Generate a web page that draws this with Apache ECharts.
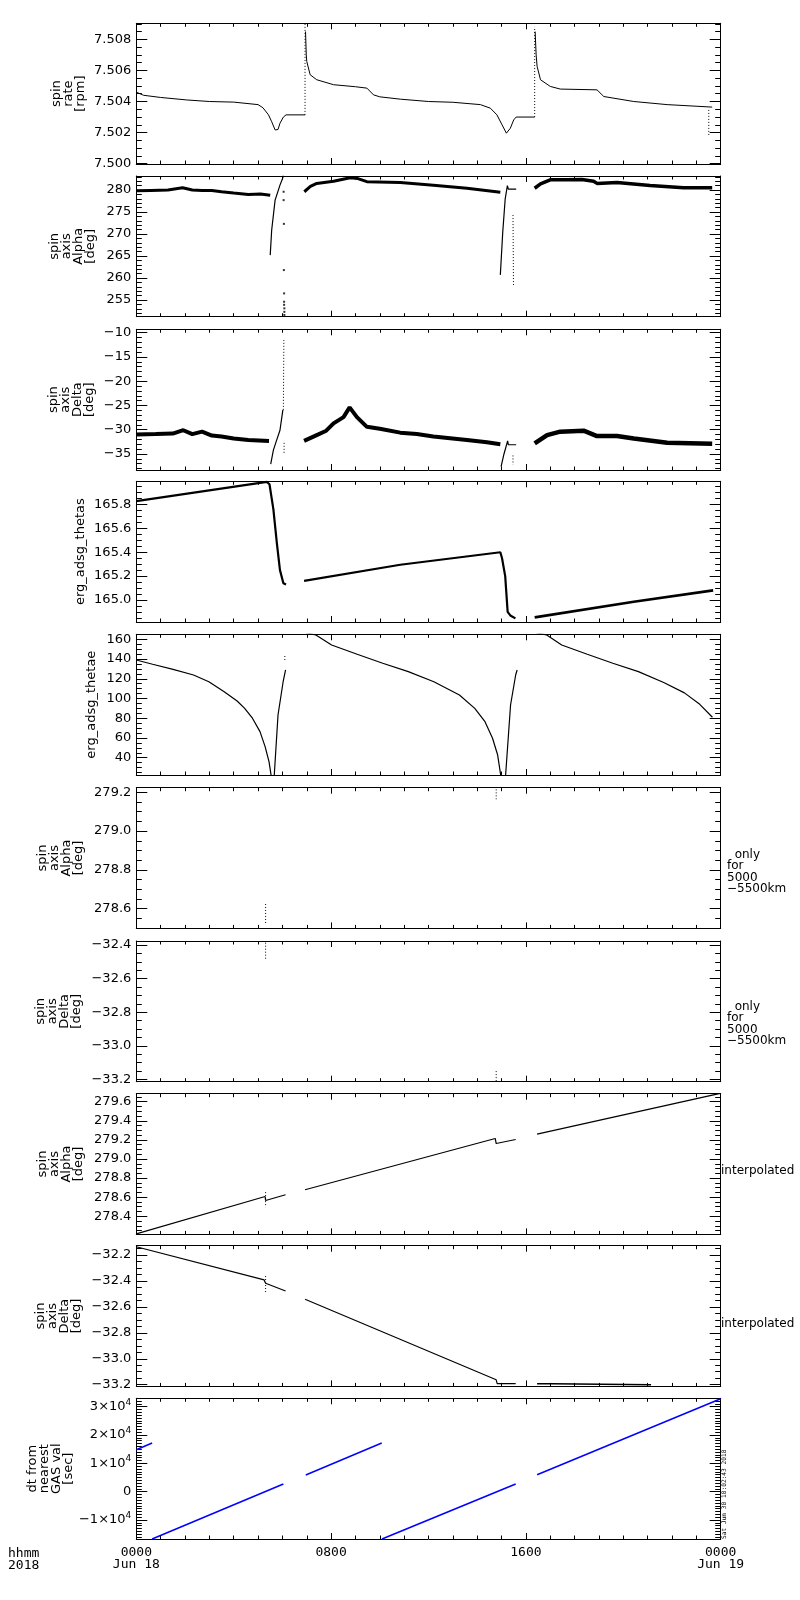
<!DOCTYPE html>
<html><head><meta charset="utf-8">
<script src="https://cdn.jsdelivr.net/npm/echarts@6/dist/echarts.min.js"></script>
<style>html,body{margin:0;padding:0;background:#fff}#c{width:800px;height:1600px}</style>
</head><body><div id="c"></div>
<script>
// ---------- axis ticks / labels ----------
const hourTicks = [0, 8, 16, 24];
const hourLabels = ['0000\nJun 18', '0800', '1600', '0000\nJun 19'];
const rateTicks = [7.500, 7.502, 7.504, 7.506, 7.508];
const alphaTicks = [255, 260, 265, 270, 275, 280];
const deltaTicks = [-35, -30, -25, -20, -15, -10];
const thetasTicks = [165.0, 165.2, 165.4, 165.6, 165.8];
const thetaeTicks = [40, 60, 80, 100, 120, 140, 160];
const onlyAlphaTicks = [278.6, 278.8, 279.0, 279.2];
const onlyDeltaTicks = [-33.2, -33.0, -32.8, -32.6, -32.4];
const interpAlphaTicks = [278.4, 278.6, 278.8, 279.0, 279.2, 279.4, 279.6];
const interpDeltaTicks = [-33.2, -33.0, -32.8, -32.6, -32.4, -32.2];
const dtTicks = [-10000, 0, 10000, 20000, 30000];

// ---------- data: [hour of day, value] ----------
// spin rate [rpm]
const rateA = [[0,7.5046],[0.3,7.5044],[1.0,7.50426],[2.07,7.5041],[3.0,7.5040],[4.0,7.50396],[5.0,7.5038],[5.2,7.5036],[5.43,7.50314],[5.56,7.5027],[5.7,7.50217],[5.75,7.5021],[5.82,7.5022],[5.9,7.5026],[6.04,7.5030],[6.15,7.50314],[6.93,7.50314]];
const rateJump1 = [[6.93,7.50314],[6.93,7.5090]];
const rateB = [[6.95,7.5085],[6.98,7.5070],[7.0,7.50658],[7.14,7.50572],[7.41,7.5054],[8.1,7.50508],[9.0,7.50495],[9.47,7.50486],[9.74,7.50443],[10.0,7.5043],[10.84,7.50415],[12.0,7.5040],[13.0,7.50395],[14.13,7.5038],[14.54,7.50357],[14.81,7.50314],[15.02,7.5025],[15.2,7.50196],[15.25,7.5019],[15.36,7.50228],[15.5,7.50282],[15.6,7.5030],[16.36,7.5030]];
const rateJump2 = [[16.36,7.5030],[16.36,7.5088]];
const rateC = [[16.38,7.5085],[16.42,7.5070],[16.46,7.50626],[16.6,7.5054],[17.0,7.50497],[17.41,7.5048],[18.92,7.50475],[19.2,7.50432],[20.43,7.5040],[21.8,7.5038],[23.65,7.50364]];
const rateDip = [[23.51,7.50346],[23.51,7.50174]];
// spin axis alpha [deg]
const alphaA = [[0,279.8],[0.6,279.9],[1.3,280.0],[1.9,280.5],[2.3,280.0],[2.7,279.9],[3.1,279.9],[3.5,279.6],[4.0,279.3],[4.6,279.0],[5.1,279.1],[5.5,278.8]];
const alphaRise1 = [[5.5,265.2],[5.56,270.9],[5.7,277.7],[5.9,281.1],[6.0,282.5],[6.04,283.3]];
const alphaDots1 = [[6.05,279.6],[6.05,277.7],[6.06,272.3],[6.06,261.8],[6.07,256.5],[6.07,254.6],[6.07,253.9],[6.08,253.1],[6.08,252.3],[6.08,251.6]];
const alphaB = [[6.9,279.6],[7.15,280.8],[7.41,281.5],[8.1,282.0],[8.78,282.8],[9.1,282.6],[9.47,281.9],[10.84,281.7],[12.2,281.1],[13.58,280.4],[14.95,279.5]];
const alphaRise2 = [[14.95,260.7],[15.05,270.5],[15.15,278.0],[15.24,281.0],[15.28,280.2],[15.6,280.2]];
const alphaDrop2 = [[15.47,274.3],[15.49,258.4]];
const alphaC = [[16.36,280.4],[16.6,281.4],[17.0,282.3],[17.69,282.3],[18.3,282.4],[18.78,282.0],[18.92,281.5],[19.74,281.7],[21.1,281.0],[22.48,280.5],[23.65,280.5]];
// spin axis delta [deg]
const deltaA = [[0,-31.0],[0.8,-30.9],[1.5,-30.8],[1.93,-30.1],[2.3,-30.9],[2.7,-30.4],[3.1,-31.2],[3.5,-31.4],[4.0,-31.8],[4.6,-32.1],[5.45,-32.3]];
const deltaRise1 = [[5.52,-37.1],[5.63,-34.2],[5.74,-32.5],[5.9,-30.1],[6.02,-25.9]];
const deltaUp1 = [[6.04,-25.9],[6.06,-11.5]];
const deltaDown1 = [[6.07,-32.7],[6.07,-34.8]];
const deltaB = [[6.89,-32.3],[7.41,-31.1],[7.8,-30.2],[8.1,-28.7],[8.51,-27.4],[8.76,-25.4],[9.06,-27.4],[9.47,-29.4],[10.0,-29.8],[10.84,-30.6],[11.52,-30.9],[12.2,-31.4],[13.58,-32.1],[14.4,-32.6],[14.95,-33.0]];
const deltaRise2 = [[14.98,-37.6],[15.1,-35.0],[15.25,-32.3],[15.28,-33.1],[15.6,-33.1]];
const deltaDown2 = [[15.47,-35.3],[15.47,-37.2]];
const deltaC = [[16.36,-32.8],[16.87,-31.1],[17.41,-30.4],[18.37,-30.2],[18.72,-30.9],[18.92,-31.3],[19.74,-31.3],[20.43,-31.8],[21.8,-32.7],[23.65,-32.9]];
// erg_adsg_thetas
const thetasA = [[0,165.828],[5.36,165.99],[5.47,165.97],[5.63,165.76],[5.77,165.48],[5.9,165.25],[6.04,165.14],[6.15,165.13]];
const thetasB = [[6.89,165.16],[10.84,165.295],[14.95,165.4],[15.02,165.35],[15.15,165.2],[15.25,164.9],[15.36,164.87],[15.57,164.845]];
const thetasC = [[16.36,164.854],[20.43,164.985],[23.69,165.08]];
// erg_adsg_thetae
const thetaeA = [[0,139.0],[0.67,134.7],[1.51,129.6],[2.35,123.8],[2.98,117.0],[3.61,106.9],[4.14,97.5],[4.45,90.0],[4.77,80.0],[5.08,66.4],[5.29,51.2],[5.45,36.0],[5.55,20.0],[5.66,20.0],[5.82,83.3],[6.03,117.0],[6.13,128.9]];
const thetaeDots = [[6.1,139],[6.1,145]];
const thetaeB = [[6.93,167],[7.36,164.5],[8.02,154.2],[9.07,144.8],[10.12,135.7],[11.17,127.2],[12.22,117.0],[13.27,103.6],[13.9,90.0],[14.32,76.5],[14.63,59.7],[14.84,42.7],[14.98,20.0],[15.16,20.0],[15.37,93.4],[15.58,123.8],[15.64,128.9]];
const thetaeC = [[16.38,167],[16.84,164.5],[17.47,154.2],[18.52,144.8],[19.57,135.7],[20.62,127.2],[21.66,116.2],[22.51,105.7],[23.14,94.1],[23.66,81.0]];
// only for 5000-5500km
const onlyAlpha1 = [[5.31,278.624],[5.31,278.516]];
const onlyAlpha2 = [[14.78,279.215],[14.78,279.164]];
const onlyDelta1 = [[5.31,-32.386],[5.31,-32.49]];
const onlyDelta2 = [[14.78,-33.15],[14.78,-33.215]];
// interpolated
const interpAlphaA = [[0,278.215],[5.29,278.607],[5.31,278.565],[6.13,278.625]];
const interpAlphaMark = [[5.31,278.653],[5.31,278.495]];
const interpAlphaB = [[6.93,278.678],[14.74,279.215],[14.78,279.162],[15.58,279.204]];
const interpAlphaC = [[16.46,279.26],[23.98,279.688]];
const interpDeltaA = [[0,-32.136],[5.25,-32.392],[5.31,-32.418],[6.13,-32.477]];
const interpDeltaMark = [[5.31,-32.362],[5.31,-32.495]];
const interpDeltaB = [[6.93,-32.541],[14.78,-33.162],[14.82,-33.192],[15.58,-33.192]];
const interpDeltaC = [[16.46,-33.192],[17.05,-33.192],[17.05,-33.2],[21.14,-33.2]];
// dt from nearest GAS val [sec]
const dtA = [[0,14820],[0.65,17190]];
const dtB = [[0.65,-16700],[6.04,2700]];
const dtC = [[6.96,5900],[10.08,17200]];
const dtD = [[10.09,-16700],[15.58,2720]];
const dtE = [[16.46,6000],[24,32800]];

// ---------- layout / style ----------
const GRID_TOPS = [23.3,176,329.3,481.3,634.3,787.7,941,1093.7,1245.7,1398.3];
const GRID_H = 140.7, GRID_L = 136.3, GRID_W = 584.4;
const K = '#000', BLUE = '#0000ff', DOT = [1, 2];
const L = (data, w, extra) => Object.assign({data, w: w || 1}, extra || {});
const mfmt = s => s.replace('-', '\u2212');

const panels = [
  {name:'spin\nrate\n[rpm]', gap:50, min:7.49998, max:7.50903, ticks:rateTicks, minor:0.0005, fmt:v=>v.toFixed(3),
   lines:[L(rateA,1),L(rateJump1,1,{dash:DOT}),L(rateB,1),L(rateJump2,1,{dash:DOT}),L(rateC,1),L(rateDip,1,{dash:DOT})]},
  {name:'spin\naxis\nAlpha\n[deg]', gap:40, min:251.2, max:283.18, ticks:alphaTicks, minor:1, fmt:v=>String(v),
   lines:[L(alphaA,3),L(alphaRise1,1.2),L(alphaDots1,1,{scatter:true}),L(alphaB,3),L(alphaRise2,1.2),L(alphaDrop2,1,{dash:DOT}),L(alphaC,3.5)]},
  {name:'spin\naxis\nDelta\n[deg]', gap:41, min:-38.3, max:-9.3, ticks:deltaTicks, minor:1, fmt:v=>mfmt(String(v)),
   lines:[L(deltaA,4),L(deltaRise1,1.2),L(deltaUp1,1,{dash:DOT}),L(deltaDown1,1,{dash:DOT}),L(deltaB,4),L(deltaRise2,1.2),L(deltaDown2,1,{dash:DOT}),L(deltaC,4.5)]},
  {name:'erg_adsg_thetas', gap:50, min:164.815, max:165.995, ticks:thetasTicks, minor:0.05, fmt:v=>v.toFixed(1),
   lines:[L(thetasA,2.2),L(thetasB,2.2),L(thetasC,2.6)]},
  {name:'erg_adsg_thetae', gap:39, min:22.47, max:165.07, ticks:thetaeTicks, minor:5, fmt:v=>String(v),
   lines:[L(thetaeA,1.2),L(thetaeDots,1,{dash:DOT}),L(thetaeB,1.2),L(thetaeC,1.2)]},
  {name:'spin\naxis\nAlpha\n[deg]', gap:51.7, min:278.498, max:279.2237, ticks:onlyAlphaTicks, minor:0.05, fmt:v=>v.toFixed(1),
   lines:[L(onlyAlpha1,1,{dash:DOT}),L(onlyAlpha2,1,{dash:DOT})]},
  {name:'spin\naxis\nDelta\n[deg]', gap:54, min:-33.213, max:-32.376, ticks:onlyDeltaTicks, minor:0.05, fmt:v=>mfmt(v.toFixed(1)),
   lines:[L(onlyDelta1,1,{dash:DOT}),L(onlyDelta2,1,{dash:DOT})]},
  {name:'spin\naxis\nAlpha\n[deg]', gap:51.7, min:278.21, max:279.684, ticks:interpAlphaTicks, minor:0.05, fmt:v=>v.toFixed(1),
   lines:[L(interpAlphaA,1.2),L(interpAlphaMark,1,{dash:DOT}),L(interpAlphaB,1.2),L(interpAlphaC,1.2)]},
  {name:'spin\naxis\nDelta\n[deg]', gap:54, min:-33.213, max:-32.128, ticks:interpDeltaTicks, minor:0.05, fmt:v=>mfmt(v.toFixed(1)),
   lines:[L(interpDeltaA,1.2),L(interpDeltaMark,1,{dash:DOT}),L(interpDeltaB,1.2),L(interpDeltaC,1.6)]},
  {name:'dt from\nnearest\nGAS val\n[sec]', gap:62, min:-16700, max:32970, ticks:dtTicks, minor:1000,
   fmt:v=>{ if (v===0) return '0'; const m=Math.round(v/1e4); return (m<0?'\u2212':'')+Math.abs(m)+'\u00d710{s|4}'; },
   rich:{s:{fontSize:9, fontFamily:'DejaVu Sans', color:K, padding:[0,0,9,0]}},
   lines:[L(dtA,1.5,{color:BLUE}),L(dtB,1.5,{color:BLUE}),L(dtC,1.5,{color:BLUE}),L(dtD,1.5,{color:BLUE}),L(dtE,1.5,{color:BLUE})]}
];

const grid=[], xAxis=[], yAxis=[], series=[];
const lineK = {color:K, width:1};
panels.forEach((p,i)=>{
  grid.push({left:GRID_L, top:GRID_TOPS[i], width:GRID_W, height:GRID_H});
  ['bottom','top'].forEach(pos=>{
    const showLab = pos==='bottom' && i===panels.length-1;
    xAxis.push({type:'value', gridIndex:i, position:pos, min:0, max:24, interval:8,
      axisLine:{show:true, onZero:false, lineStyle:lineK},
      axisTick:{show:true, inside:true, length:6, lineStyle:lineK},
      minorTick:{show:true, splitNumber:8, length:3.5, lineStyle:lineK},
      splitLine:{show:false}, minorSplitLine:{show:false},
      axisLabel:{show:showLab, showMinLabel:true, showMaxLabel:true, margin:8,
        fontFamily:'DejaVu Sans Mono', fontSize:13, lineHeight:12, color:K,
        formatter:v=>{const k=hourTicks.indexOf(v); return k<0?'':hourLabels[k];}}
    });
  });
  const minors=[];
  for (let k=Math.ceil(p.min/p.minor-1e-6); k*p.minor<=p.max+1e-9; k++) minors.push(+(k*p.minor).toFixed(6));
  ['left','right'].forEach(pos=>{
    const major = {type:'value', gridIndex:i, position:pos, min:p.min, max:p.max,
      axisLine:{show:true, onZero:false, lineStyle:lineK},
      axisTick:{show:true, inside:true, length:11, customValues:p.ticks, lineStyle:lineK},
      splitLine:{show:false},
      axisLabel:{show:pos==='left', customValues:p.ticks, formatter:p.fmt, margin:5,
        fontFamily:'DejaVu Sans', fontSize:13, color:K, rich:p.rich||{}}
    };
    if (pos==='left') {
      Object.assign(major, {name:p.name, nameLocation:'middle', nameRotate:90, nameGap:p.gap,
        nameMoveOverlap:false,
        nameTextStyle:{fontFamily:'DejaVu Sans', fontSize:13, lineHeight:12, color:K, align:'center'}});
    }
    yAxis.push(major);
    yAxis.push({type:'value', gridIndex:i, position:pos, min:p.min, max:p.max,
      axisLine:{show:false, onZero:false},
      axisTick:{show:true, inside:true, length:5.5, customValues:minors, lineStyle:lineK},
      axisLabel:{show:false}, splitLine:{show:false}});
  });
  p.lines.forEach(s=>{
    if (s.scatter) {
      series.push({type:'scatter', xAxisIndex:2*i, yAxisIndex:4*i, data:s.data, symbol:'rect', symbolSize:2,
        itemStyle:{color:s.color||K}, silent:true});
    } else {
      series.push({type:'line', xAxisIndex:2*i, yAxisIndex:4*i, data:s.data, symbol:'none', showSymbol:false,
        clip:true, silent:true, lineStyle:{color:s.color||K, width:s.w, type:s.dash||'solid'}});
    }
  });
});

const txt = (x,y,text,size,family)=>({type:'text', x, y, silent:true,
  style:{text, fontSize:size, fontFamily:family, fill:K, lineHeight:Math.round(size*0.95*10)/10,
  align:'left', verticalAlign:'top', textAlign:'left', textVerticalAlign:'top'}});
const graphic = [
  txt(8, 1547, 'hhmm\n2018', 13, 'DejaVu Sans Mono'),
  txt(727, 849, '  only\nfor\n5000\n\u22125500km', 12, 'DejaVu Sans'),
  txt(727, 1001, '  only\nfor\n5000\n\u22125500km', 12, 'DejaVu Sans'),
  txt(721, 1165, 'interpolated', 12, 'DejaVu Sans'),
  txt(721, 1318, 'interpolated', 12, 'DejaVu Sans'),
  {type:'text', x:724.3, y:1539, rotation:Math.PI/2, silent:true,
   style:{text:'Sat Jun 30 10:02:43 2018', fontSize:6.2, fontFamily:'DejaVu Sans Mono', fill:K,
   align:'left', verticalAlign:'middle', textAlign:'left', textVerticalAlign:'middle'}}
];

const chart = echarts.init(document.getElementById('c'));
chart.setOption({animation:false, backgroundColor:'#fff', textStyle:{fontFamily:'DejaVu Sans'},
  grid, xAxis, yAxis, series, graphic});
</script></body></html>
